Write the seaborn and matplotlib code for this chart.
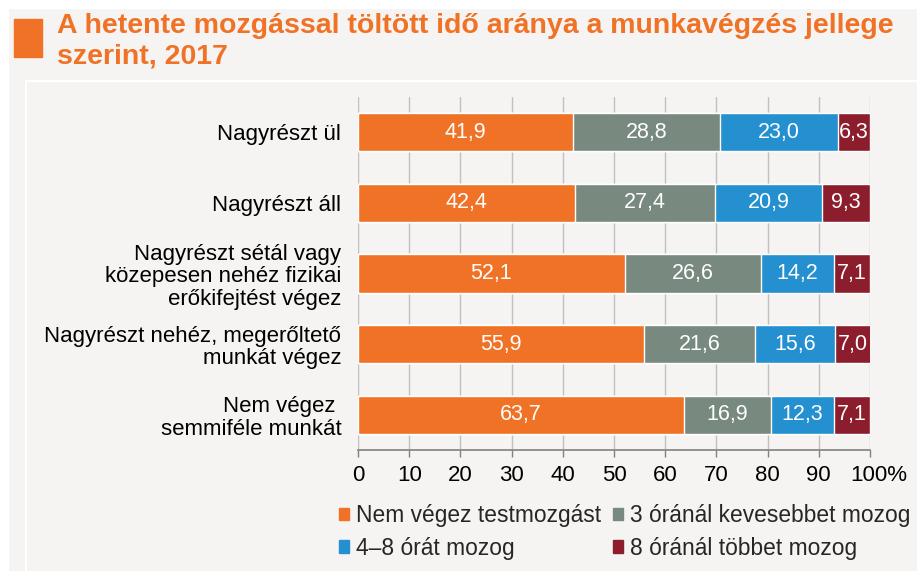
import matplotlib
matplotlib.use("Agg")
import matplotlib.pyplot as plt
import matplotlib.transforms as mtransforms
import seaborn as sns
import numpy as np
import pandas as pd
from matplotlib.patches import Rectangle, Patch

categories = ["Nagyrészt ül", "Nagyrészt áll",
              "Nagyrészt sétál vagy\nközepesen nehéz fizikai\nerőkifejtést végez",
              "Nagyrészt nehéz, megerőltető\nmunkát végez",
              "Nem végez \nsemmiféle munkát"]
series = ["Nem végez testmozgást", "3 óránál kevesebbet mozog",
          "4–8 órát mozog", "8 óránál többet mozog"]
nem_vegez = [41.9, 42.4, 52.1, 55.9, 63.7]
kevesebb3 = [28.8, 27.4, 26.6, 21.6, 16.9]
ora4_8 = [23.0, 20.9, 14.2, 15.6, 12.3]
tobb8 = [6.3, 9.3, 7.1, 7.0, 7.1]
tick_labels = ["0", "10", "20", "30", "40", "50", "60", "70", "80", "90", "100%"]
colors = ["#f07226", "#788a80", "#2490cf", "#8c1d2c"]

values = [nem_vegez, kevesebb3, ora4_8, tobb8]
cum = np.cumsum(np.array(values), axis=0)

sns.set_theme(style="white")
plt.rcParams['font.family'] = ['Liberation Sans', 'DejaVu Sans']

fig = plt.figure(figsize=(9.17, 5.71), dpi=100)
fig.patch.set_facecolor("#f5f4f2")
# white margins at top and left
fig.patches.append(Rectangle((0, 0), 8/917, 1, transform=fig.transFigure, color="white", zorder=0))
fig.patches.append(Rectangle((0, 1-8/571), 1, 8/571, transform=fig.transFigure, color="white", zorder=0))
# faint inner panel border
fig.lines.append(plt.Line2D([26/917, 1], [1-81/571, 1-81/571], transform=fig.transFigure, color="white", lw=1.5))
fig.lines.append(plt.Line2D([26/917, 26/917], [0, 1-81/571], transform=fig.transFigure, color="white", lw=1.5))

# title block
fig.patches.append(Rectangle((14/917, 1-57/571), 28/917, 38/571, transform=fig.transFigure,
                             color="#f07226", zorder=1))
fig.text(57/917, 1-26/571, "A hetente mozgással töltött idő aránya a munkavégzés jellege",
         color="#f07226", fontsize=20.5, fontweight="bold",
         family=["Liberation Sans", "DejaVu Sans"], va="center", ha="left")
fig.text(57/917, 1-57/571, "szerint, 2017",
         color="#f07226", fontsize=20.5, fontweight="bold",
         family=["Liberation Sans", "DejaVu Sans"], va="center", ha="left")

ax = fig.add_axes([358/917, 1-450/571, 512/917, 353/571])
ax.set_facecolor("#f5f4f2")

df = pd.DataFrame({"cat": categories})
for i in range(3, -1, -1):
    df["v"] = cum[i]
    sns.barplot(data=df, y="cat", x="v", orient="h", color=colors[i], width=0.54,
                saturation=1, ax=ax, zorder=3, order=categories)

for i in range(4):
    for j in range(len(categories)):
        v = values[i][j]
        ax.text(cum[i][j] - v/2, j, f"{v:.1f}".replace(".", ","), color="white",
                ha="center", va="center", fontsize=15.5, zorder=5)

ax.set_xlim(0, 100)
ax.set_ylim(4.5, -0.5)
ax.set_xticks(np.arange(0, 101, 10))
ax.set_xticklabels(tick_labels, fontsize=16, color="black")
ax.set_ylabel("")
ax.set_xlabel("")
ax.tick_params(axis="y", length=0, pad=12, labelsize=16)
for lab in ax.get_yticklabels():
    lab.set_multialignment("right")
    lab.set_linespacing(1.1)
    lab.set_color("black")
ax.tick_params(axis="x", length=5, width=1, color="#808080", direction="out", pad=6)
ax.xaxis.set_ticks_position("bottom")
# shift "100%" so that "100" sits on the tick
last = ax.get_xticklabels()[-1]
last.set_transform(last.get_transform() + mtransforms.ScaledTranslation(9/100, 0, fig.dpi_scale_trans))
for s in ["top", "right", "left"]:
    ax.spines[s].set_visible(False)
ax.spines["bottom"].set_color("#808080")
ax.spines["bottom"].set_linewidth(1.2)
ax.grid(axis="x", color="#c0c0c0", lw=1, zorder=0)
ax.set_axisbelow(True)

handles = [Patch(color=colors[0]), Patch(color=colors[2]), Patch(color=colors[1]), Patch(color=colors[3])]
labels = [series[0], series[2], series[1], series[3]]
fig.legend(handles, labels, ncol=2, loc="upper left", bbox_to_anchor=(339/917, 1-504/571),
           frameon=False, fontsize=16.4, handlelength=0.45, handleheight=0.45, handletextpad=0.3,
           columnspacing=0.5, labelspacing=0.42, borderaxespad=0, borderpad=0)

fig.savefig("out.png", dpi=100, facecolor=fig.get_facecolor())
